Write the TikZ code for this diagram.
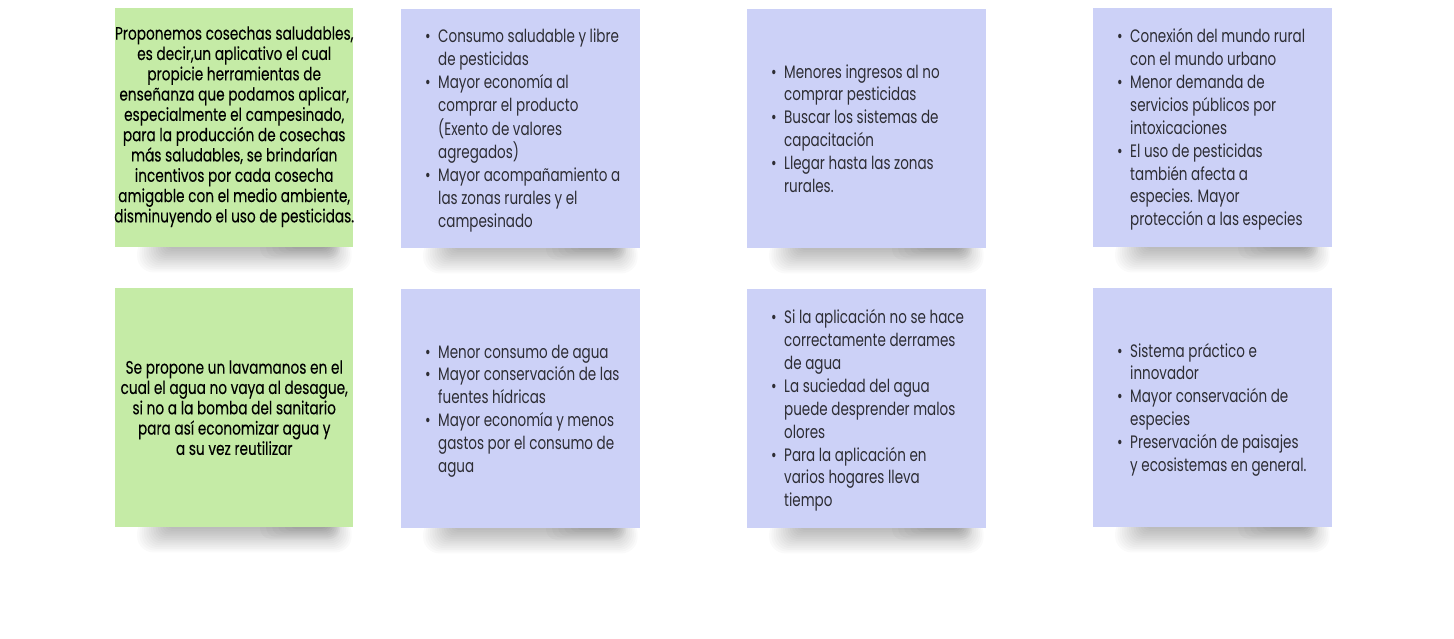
\documentclass[tikz,border=0pt]{standalone}
\usepackage{fontspec}
\setmainfont{Poppins}[FakeStretch=0.75]
\newfontfamily\greenfont{Poppins}[FakeStretch=0.76,FakeBold=0.1]
\definecolor{notegreen}{RGB}{197,235,166}
\definecolor{noteblue}{RGB}{204,209,247}
\definecolor{txtgray}{RGB}{45,45,52}
\newcommand\stickyshadow[2]{%
  \foreach \i in {0,...,13}{%
    \fill[black,opacity=0.018,rounded corners={(6+0.8*\i)*1bp}]
      ({#1+52-2.3*\i},{#2+239-10}) rectangle ({#1+212+1.9*\i},{#2+239+2+1.8*\i});
  }%
  \foreach \i in {0,...,5}{%
    \fill[black,opacity=0.02,rounded corners={(6+1*\i)*1bp}]
      ({#1+175-6*\i},{#2+239-10}) rectangle ({#1+218+1.5*\i},{#2+239+2+2*\i});
  }%
}
\newcommand\blist[1]{{\fontsize{18bp}{22.9bp}\selectfont
  \begin{tabular}{@{}p{13bp}@{}l@{}}#1\end{tabular}}}
\newcommand\bi{\textbullet &}
\tikzset{
  gnote/.style={fill=notegreen, draw=none, minimum width=238bp, minimum height=239bp, inner sep=0pt, anchor=north west},
  bnote/.style={fill=noteblue, draw=none, minimum width=239bp, minimum height=239bp, inner sep=0pt, anchor=north west},
  gtext/.style={text=black, align=center, inner sep=0pt, font=\greenfont\fontsize{18bp}{20.3bp}\selectfont},
  btext/.style={text=txtgray, align=left, inner sep=0pt, anchor=west},
}
\begin{document}
\begin{tikzpicture}[x=1bp,y=-1bp]
\useasboundingbox[fill=white] (0,0) rectangle (1454,639);
% shadows
\stickyshadow{115}{8}
\stickyshadow{401}{9}
\stickyshadow{747}{9}
\stickyshadow{1093}{8}
\stickyshadow{115}{288}
\stickyshadow{401}{289}
\stickyshadow{747}{289}
\stickyshadow{1093}{288}
% notes
\node[gnote] (n11) at (115,8) {};
\node[bnote] (n12) at (401,9) {};
\node[bnote] (n13) at (747,9) {};
\node[bnote] (n14) at (1093,8) {};
\node[gnote] (n21) at (115,288) {};
\node[bnote] (n22) at (401,289) {};
\node[bnote] (n23) at (747,289) {};
\node[bnote] (n24) at (1093,288) {};
% texts
\node[gtext] (t11) at ([yshift=1bp]n11.center) {Proponemos cosechas saludables,\\es decir,un aplicativo el cual\\propicie herramientas de\\enseñanza que podamos aplicar,\\especialmente el campesinado,\\para la producción de cosechas\\más saludables, se brindarían\\incentivos por cada cosecha\\amigable con el medio ambiente,\\disminuyendo el uso de pesticidas.};
\node[btext] (t12) at ([xshift=24bp,yshift=-2bp]n12.west) {\blist{%
\bi Consumo saludable y libre\\ & de pesticidas\\
\bi Mayor economía al\\ & comprar el producto\\ & (Exento de valores\\ & agregados)\\
\bi Mayor acompañamiento a\\ & las zonas rurales y el\\ & campesinado}};
\node[btext] (t13) at ([xshift=24bp,yshift=-2bp]n13.west) {\blist{%
\bi Menores ingresos al no\\ & comprar pesticidas\\
\bi Buscar los sistemas de\\ & capacitación\\
\bi Llegar hasta las zonas\\ & rurales.}};
\node[btext] (t14) at ([xshift=24bp,yshift=-2bp]n14.west) {\blist{%
\bi Conexión del mundo rural\\ & con el mundo urbano\\
\bi Menor demanda de\\ & servicios públicos por\\ & intoxicaciones\\
\bi El uso de pesticidas\\ & también afecta a\\ & especies. Mayor\\ & protección a las especies}};
\node[gtext] (t21) at (n21.center) {Se propone un lavamanos en el\\cual el agua no vaya al desague,\\si no a la bomba del sanitario\\para así economizar agua y\\a su vez reutilizar};
\node[btext] (t22) at ([xshift=24bp,yshift=-2bp]n22.west) {\blist{%
\bi Menor consumo de agua\\
\bi Mayor conservación de las\\ & fuentes hídricas\\
\bi Mayor economía y menos\\ & gastos por el consumo de\\ & agua}};
\node[btext] (t23) at ([xshift=24bp,yshift=-2bp]n23.west) {\blist{%
\bi Si la aplicación no se hace\\ & correctamente derrames\\ & de agua\\
\bi La suciedad del agua\\ & puede desprender malos\\ & olores\\
\bi Para la aplicación en\\ & varios hogares lleva\\ & tiempo}};
\node[btext] (t24) at ([xshift=24bp,yshift=-2bp]n24.west) {\blist{%
\bi Sistema práctico e\\ & innovador\\
\bi Mayor conservación de\\ & especies\\
\bi Preservación de paisajes\\ & y ecosistemas en general.}};
\end{tikzpicture}
\end{document}
